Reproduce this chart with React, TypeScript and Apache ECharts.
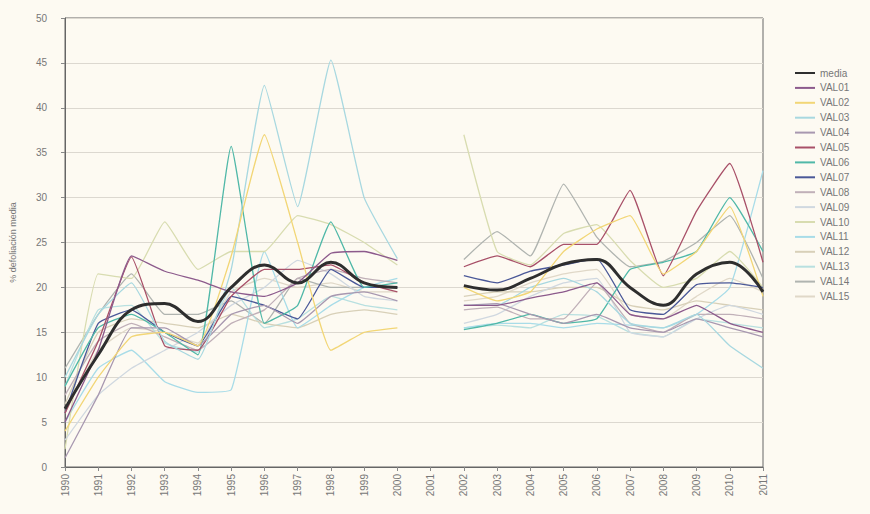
import React, { useEffect, useRef } from "react";
import * as echarts from "echarts";

const years = ["1990","1991","1992","1993","1994","1995","1996","1997","1998","1999","2000","2001","2002","2003","2004","2005","2006","2007","2008","2009","2010","2011"];

const media = [6.5,12.5,17.5,18.2,16.2,20,22.5,20.5,22.8,20.5,20,null,20.2,19.7,21,22.6,23.1,20,18,21.5,22.8,19.5];
const val01 = [5,13,23.5,21.8,20.8,19.5,19,20.5,23.8,24,23,null,18,18,18.8,19.5,20.5,17,16.5,18,16,15];
const val02 = [4,10,14.5,15,13.5,23.5,37,25,13,15,15.5,null,20,18.5,19.5,24,26.5,28,21.5,24,29,19];
const val03 = [10,17,20.5,14,12,22,42.5,29,45.3,30,23.2,null,18,18,20,21,19.5,16,15.5,17,13.5,11];
const val04 = [1,8,15.5,15.5,13.5,17,18,16,19,19.5,18.5,null,18,18.2,17,16,17,15.5,15,16.5,15.5,14.5];
const val05 = [6,14,23.4,13.5,13,19,22,22,22.5,20.5,19.5,null,22.3,23.5,22.3,24.8,24.8,30.8,21.3,28.5,33.8,22.8];
const val06 = [9,15.5,17,15,12.5,35.7,16,18,27.3,20,20.5,null,15.3,16,17,16,16.5,22,22.8,24,30,24];
const val07 = [6,16,17.5,15,13.5,19,18,16.5,22,20,20,null,21.3,20.5,21.8,22.5,23.2,17.5,17,20.3,20.5,20];
const val08 = [8,14,16,14.5,13,16,17.5,21,22,21,20.5,null,17.5,17.8,16.5,16.5,20.5,16,15,17,17,16.5];
const val09 = [3,8,11,13,15,18,20,23,21.5,19,18.5,null,16,17,19,20.5,21,15,14.5,16.5,18,17];
const val10 = [2,21.5,21,27.3,22,24,24,28,27,25,22.5,null,37,24,22.5,26,27,23,20,21,24,20];
const val11 = [5,11,13,9.5,8.3,8.6,24,15.5,18,20,21,null,15.5,16,16,15.5,16,15.8,15.5,17,20,33];
const val12 = [7,15,16.5,16,15.5,17,16,15.5,17,17.5,17,null,19,19.5,19.5,20,20,18,17.5,18.5,18,17.5];
const val13 = [9,17.5,18,13.8,12.8,20,15.5,16.5,19,18,17.5,null,15.5,15.8,15.5,17,16.8,15,14.5,16.5,16,15.5];
const val14 = [11,17,21.5,17,17,18.5,16,21,20,20,20,null,23.1,26.2,23.5,31.5,25.6,22.3,22.9,25,28,21];
const val15 = [6,13,15.5,15,13.8,19.5,21,20,20.5,19.5,19.5,null,18.5,19,20.5,21.5,22,17,16.5,19,21,19.5];

const seriesNames = ["media","VAL01","VAL02","VAL03","VAL04","VAL05","VAL06","VAL07","VAL08","VAL09","VAL10","VAL11","VAL12","VAL13","VAL14","VAL15"];
const seriesData = [media,val01,val02,val03,val04,val05,val06,val07,val08,val09,val10,val11,val12,val13,val14,val15];
const seriesColors = ["#2e2e2e","#8c5a8c","#f2d676","#a8d8e0","#a898b0","#a85068","#50b8a8","#4a5898","#c0b0b8","#d0d8e0","#d8dcb0","#a8dce8","#d8d0b8","#b8e0e0","#b0b4b0","#e0d8c8"];

export default function App() {
  const ref = useRef<HTMLDivElement>(null);
  useEffect(() => {
    if (!ref.current) return;
    const chart = echarts.init(ref.current, null, { renderer: "svg" });
    const series: any[] = [];
    for (let i = seriesNames.length - 1; i >= 0; i--) {
      series.push({
        name: seriesNames[i],
        type: "line",
        data: seriesData[i],
        smooth: i === 0 ? 0.4 : 0.12,
        showSymbol: false,
        connectNulls: false,
        z: i === 0 ? 10 : 2,
        lineStyle: { color: seriesColors[i], width: i === 0 ? 3 : 1.3 },
        itemStyle: { color: seriesColors[i] },
      });
    }
    chart.setOption({
      animation: false,
      backgroundColor: "#fdfaf2",
      grid: { left: 62, right: 107, top: 18, bottom: 47, show: true, borderColor: "#666", borderWidth: 1, backgroundColor: "transparent" },
      legend: {
        data: seriesNames,
        orient: "vertical",
        left: 790,
        top: 63,
        icon: "rect",
        itemWidth: 20,
        itemHeight: 2,
        itemGap: 4.9,
        textStyle: { fontSize: 10, color: "#777", fontFamily: "Liberation Sans" },
      },
      xAxis: {
        type: "category",
        data: years,
        boundaryGap: false,
        axisLine: { lineStyle: { color: "#666" } },
        axisTick: { show: true, length: 4, lineStyle: { color: "#888" } },
        axisLabel: { rotate: 90, fontSize: 10, color: "#777", fontFamily: "Liberation Sans", margin: 7 },
        splitLine: { show: false },
      },
      yAxis: {
        type: "value",
        min: 0,
        max: 50,
        interval: 5,
        name: "% defoliación media",
        nameLocation: "middle",
        nameGap: 48,
        nameTextStyle: { fontSize: 9, color: "#777", fontFamily: "Liberation Sans" },
        axisLine: { show: true, lineStyle: { color: "#666" } },
        axisTick: { show: true, length: 4, lineStyle: { color: "#888" } },
        axisLabel: { fontSize: 10, color: "#777", fontFamily: "Liberation Sans", margin: 18 },
        splitLine: { lineStyle: { color: "#dcd8d0" } },
      },
      series,
    });
    return () => chart.dispose();
  }, []);
  return <div ref={ref} style={{ position: "fixed", left: 0, top: 0, width: 870, height: 514 }} />;
}
